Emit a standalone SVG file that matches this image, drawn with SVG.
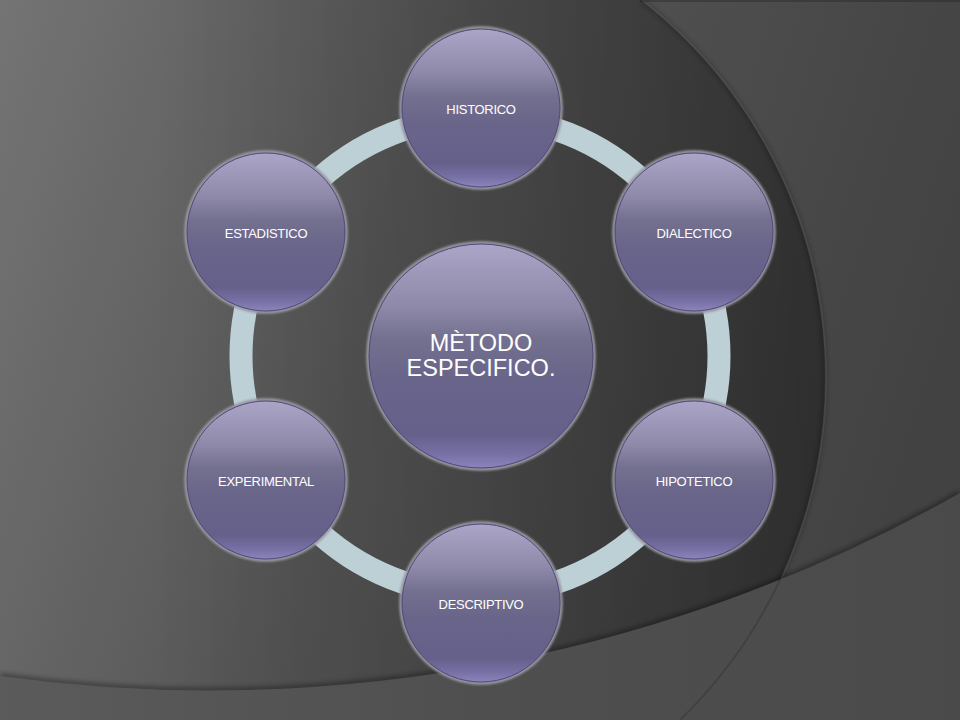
<svg xmlns="http://www.w3.org/2000/svg" width="960" height="720" viewBox="0 0 960 720">
<defs>
<linearGradient id="bg" x1="0" y1="0" x2="960" y2="300" gradientUnits="userSpaceOnUse">
<stop offset="0" stop-color="#747474"/>
<stop offset="0.45" stop-color="#555555"/>
<stop offset="1" stop-color="#424242"/>
</linearGradient>
<linearGradient id="darkCircle" x1="150" y1="0" x2="830" y2="0" gradientUnits="userSpaceOnUse">
<stop offset="0" stop-color="#000" stop-opacity="0"/>
<stop offset="0.45" stop-color="#000" stop-opacity="0.14"/>
<stop offset="1" stop-color="#000" stop-opacity="0.34"/>
</linearGradient>
<linearGradient id="lowBand" x1="0" y1="0" x2="960" y2="0" gradientUnits="userSpaceOnUse">
<stop offset="0" stop-color="#5b5b5b"/>
<stop offset="0.5" stop-color="#4f4f4f"/>
<stop offset="1" stop-color="#4a4a4a"/>
</linearGradient>
<linearGradient id="nodeGrad" x1="0" y1="0" x2="0" y2="1">
<stop offset="0" stop-color="#aba6c7"/>
<stop offset="0.28" stop-color="#8e89a9"/>
<stop offset="0.42" stop-color="#74708f"/>
<stop offset="0.6" stop-color="#69658a"/>
<stop offset="0.85" stop-color="#65608a"/>
<stop offset="0.94" stop-color="#7771a6"/>
<stop offset="1" stop-color="#8a85bb"/>
</linearGradient>
<filter id="soft" x="-10%" y="-10%" width="120%" height="120%">
<feGaussianBlur stdDeviation="0.9"/>
</filter>
<filter id="edgeShadow" x="-5%" y="-5%" width="110%" height="110%">
<feGaussianBlur stdDeviation="2.5"/>
</filter>
<clipPath id="lowClip">
<path d="M0,676 A1525,1525 0 0 0 960,493 L960,720 L0,720 Z"/>
</clipPath>
<style>
.glow{fill:none;stroke:#9a98a3;stroke-width:3.5;filter:url(#soft)}
.disc{fill:url(#nodeGrad);stroke:#4f4a7c;stroke-width:1}
.lbl{font-family:"Liberation Sans",Arial,sans-serif;font-size:13px;letter-spacing:-0.3px;fill:#ffffff;text-anchor:middle}
.big{font-family:"Liberation Sans",Arial,sans-serif;font-size:23.5px;fill:#ffffff;text-anchor:middle}
.ring{fill:none;stroke:#bcd0d6;stroke-width:23}
</style>
</defs>

<g id="background">
<rect width="960" height="720" fill="url(#bg)"/>
<circle cx="347" cy="377" r="478" fill="url(#darkCircle)"/>
<path d="M641,0 A478,478 0 0 1 680,720" fill="none" stroke="#000" stroke-opacity="0.28" stroke-width="4" filter="url(#edgeShadow)"/>
<path d="M641,0 A478,478 0 0 1 680,720" fill="none" stroke="#ffffff" stroke-opacity="0.07" stroke-width="1.5" transform="translate(1,0)"/>
<path d="M0,676 A1525,1525 0 0 0 960,493" fill="none" stroke="#000" stroke-opacity="0.35" stroke-width="6" filter="url(#edgeShadow)"/>
<path d="M0,676 A1525,1525 0 0 0 960,493 L960,720 L0,720 Z" fill="url(#lowBand)"/>
<g clip-path="url(#lowClip)">
<path d="M641,0 A478,478 0 0 1 680,720" fill="none" stroke="#000" stroke-opacity="0.15" stroke-width="2"/>
</g>
<rect x="640" y="0" width="320" height="2" fill="#000" fill-opacity="0.2"/>
</g>

<g id="connectors">
<circle class="ring" cx="480" cy="356" r="239"/>
</g>

<g id="node-center" transform="translate(481,356)">
<circle class="glow" r="113"/>
<circle class="disc" r="112"/>
<text class="big" y="-5">MÈTODO</text>
<text class="big" y="20">ESPECIFICO.</text>
</g>

<g id="node-historico" transform="translate(481,108)">
<circle class="glow" r="80"/>
<circle class="disc" r="79"/>
<text class="lbl" y="5.5">HISTORICO</text>
</g>

<g id="node-dialectico" transform="translate(694,232)">
<circle class="glow" r="80"/>
<circle class="disc" r="79"/>
<text class="lbl" y="5.5">DIALECTICO</text>
</g>

<g id="node-hipotetico" transform="translate(694,480)">
<circle class="glow" r="80"/>
<circle class="disc" r="79"/>
<text class="lbl" y="5.5">HIPOTETICO</text>
</g>

<g id="node-descriptivo" transform="translate(481,603)">
<circle class="glow" r="80"/>
<circle class="disc" r="79"/>
<text class="lbl" y="5.5">DESCRIPTIVO</text>
</g>

<g id="node-experimental" transform="translate(266,480)">
<circle class="glow" r="80"/>
<circle class="disc" r="79"/>
<text class="lbl" y="5.5">EXPERIMENTAL</text>
</g>

<g id="node-estadistico" transform="translate(266,232)">
<circle class="glow" r="80"/>
<circle class="disc" r="79"/>
<text class="lbl" y="5.5">ESTADISTICO</text>
</g>
</svg>
